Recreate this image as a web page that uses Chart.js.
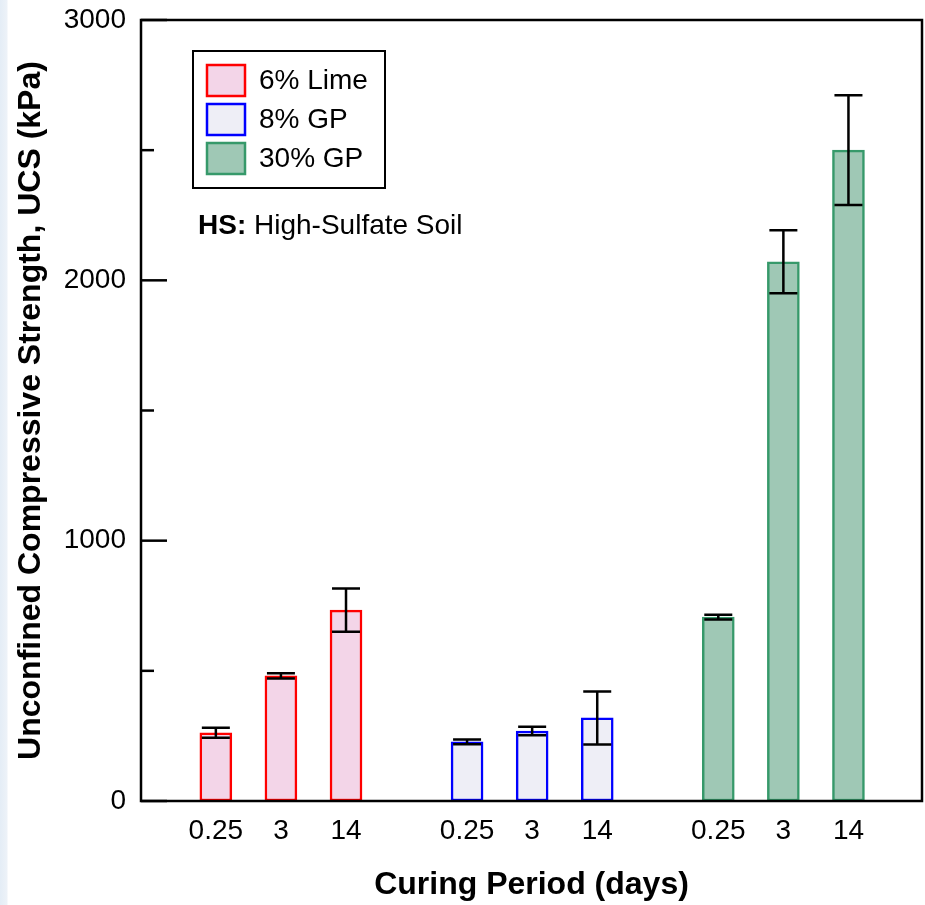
<!DOCTYPE html>
<html>
<head>
<meta charset="utf-8">
<script src="https://cdn.jsdelivr.net/npm/chart.js@4.4.1/dist/chart.umd.min.js"></script>
<style>
  html, body { margin: 0; padding: 0; }
  body { width: 925px; height: 905px; background: linear-gradient(to right, #e4edf6 0, #edf2f8 7px, #ffffff 8px); }
  #wrap { width: 925px; height: 905px; }
</style>
</head>
<body>
<div id="wrap"><canvas id="ucs-chart" width="925" height="905"></canvas></div>
<script>
const periods = ['0.25', '3', '14'];
const seriesNames = ['6% Lime', '8% GP', '30% GP'];
const limeUCS = [262, 481, 733];
const limeErr = [19, 10, 83];
const gp8UCS = [227, 269, 319];
const gp8Err = [9, 16, 102];
const gp30UCS = [706, 2071, 2500];
const gp30Err = [9, 121, 211];
const yTicks = [0, 500, 1000, 1500, 2000, 2500, 3000];

const FONT = "'Liberation Sans', Arial, sans-serif";
const groupStride = 3.86;
const xPos = (g, i) => g * groupStride + i;

const styles = [
    { fill: '#f3d5e8', border: '#ff0000' },
    { fill: '#eeeef6', border: '#0000ff' },
    { fill: '#9fc8b5', border: '#36996a' },
];

const makeSet = (g, values, errs) => ({
    label: seriesNames[g],
    data: values.map((v, i) => ({ x: xPos(g, i), y: v })),
    errors: errs,
    backgroundColor: styles[g].fill,
    borderColor: styles[g].border,
    borderWidth: 2.5,
    borderSkipped: false,
    barThickness: 32,
    grouped: false,
});

const errorBars = {
    id: 'errorBars',
    afterDatasetsDraw(chart) {
        const { ctx, scales: { y } } = chart;
        ctx.save();
        ctx.strokeStyle = '#000';
        ctx.lineWidth = 2.5;
        chart.data.datasets.forEach((ds, di) => {
            chart.getDatasetMeta(di).data.forEach((bar, i) => {
                const v = ds.data[i].y, e = ds.errors[i];
                const top = y.getPixelForValue(v + e);
                const bot = y.getPixelForValue(v - e);
                ctx.beginPath();
                ctx.moveTo(bar.x, top); ctx.lineTo(bar.x, bot);
                ctx.moveTo(bar.x - 14, top); ctx.lineTo(bar.x + 14, top);
                ctx.moveTo(bar.x - 14, bot); ctx.lineTo(bar.x + 14, bot);
                ctx.stroke();
            });
        });
        ctx.restore();
    },
};

const frameAndLegend = {
    id: 'frameAndLegend',
    afterDraw(chart) {
        const { ctx, chartArea: a, scales: { y } } = chart;
        ctx.save();
        ctx.strokeStyle = '#000';
        ctx.lineWidth = 2.5;
        ctx.strokeRect(a.left, a.top, a.right - a.left, a.bottom - a.top);
        // inward ticks
        y.ticks.forEach((t) => {
            const py = y.getPixelForValue(t.value);
            const len = t.value % 1000 === 0 ? 26 : 13;
            ctx.beginPath();
            ctx.moveTo(a.left, py);
            ctx.lineTo(a.left + len, py);
            ctx.stroke();
        });
        // legend box
        ctx.lineWidth = 2;
        ctx.strokeRect(193, 51, 192, 137);
        chart.data.datasets.forEach((ds, i) => {
            const sy = 64 + i * 39;
            ctx.fillStyle = ds.backgroundColor;
            ctx.fillRect(206, sy, 40, 33);
            ctx.strokeStyle = ds.borderColor;
            ctx.lineWidth = 2.5;
            ctx.strokeRect(207, sy + 1, 38, 31);
            ctx.fillStyle = '#000';
            ctx.font = `28px ${FONT}`;
            ctx.textBaseline = 'middle';
            ctx.fillText(ds.label, 259, sy + 17);
        });
        ctx.textBaseline = 'alphabetic';
        ctx.font = `bold 28px ${FONT}`;
        ctx.fillText('HS:', 198, 234);
        const w = ctx.measureText('HS: ').width;
        ctx.font = `28px ${FONT}`;
        ctx.fillText('High-Sulfate Soil', 198 + w, 234);
        ctx.restore();
    },
};

new Chart(document.getElementById('ucs-chart'), {
    type: 'bar',
    data: {
        datasets: [
            makeSet(0, limeUCS, limeErr),
            makeSet(1, gp8UCS, gp8Err),
            makeSet(2, gp30UCS, gp30Err),
        ],
    },
    options: {
        responsive: false,
        animation: false,
        layout: { padding: { left: 0, top: 20, right: 3, bottom: 0 } },
        plugins: { legend: { display: false }, tooltip: { enabled: false } },
        scales: {
            x: {
                type: 'linear',
                min: -1.15,
                max: 10.85,
                offset: false,
                grid: { display: false, drawTicks: false },
                border: { display: false },
                afterBuildTicks: (scale) => {
                    scale.ticks = [0, 1, 2].flatMap((g) => [0, 1, 2].map((i) => ({ value: xPos(g, i) })));
                },
                afterFit: (scale) => {
                    scale.height = 104;
                    scale.paddingLeft = 0;
                    scale.paddingRight = 0;
                },
                ticks: {
                    autoSkip: false,
                    maxRotation: 0,
                    padding: 13,
                    color: '#000',
                    font: { family: FONT, size: 28 },
                    callback: (v, idx) => periods[idx % 3],
                },
                title: {
                    display: true,
                    text: 'Curing Period (days)',
                    color: '#000',
                    font: { family: FONT, size: 32, weight: 'bold' },
                    padding: { top: 0, bottom: 1 },
                },
            },
            y: {
                min: 0,
                max: 3000,
                grid: { display: false, drawTicks: false },
                border: { display: false },
                afterBuildTicks: (scale) => { scale.ticks = yTicks.map((v) => ({ value: v })); },
                afterFit: (scale) => {
                    scale.width = 141;
                    scale.paddingTop = 0;
                    scale.paddingBottom = 0;
                },
                ticks: {
                    padding: 15,
                    color: '#000',
                    font: { family: FONT, size: 28 },
                    callback: (v) => (v % 1000 === 0 ? v : ''),
                },
                title: {
                    display: true,
                    text: 'Unconfined Compressive Strength, UCS (kPa)',
                    color: '#000',
                    font: { family: FONT, size: 32, weight: 'bold' },
                    padding: { top: 12, bottom: 0 },
                },
            },
        },
    },
    plugins: [errorBars, frameAndLegend],
});
</script>
</body>
</html>
